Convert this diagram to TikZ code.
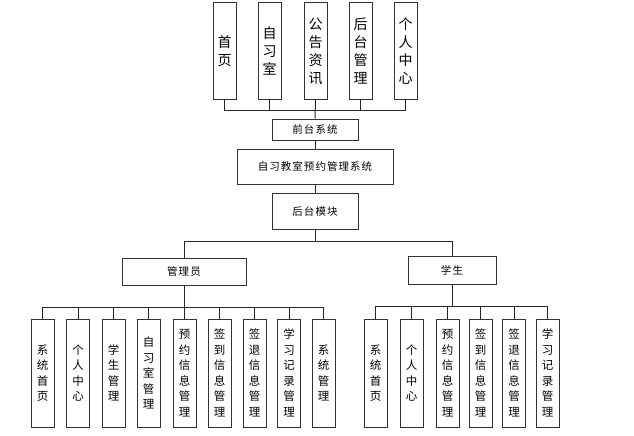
\documentclass[tikz,border=0pt]{standalone}
\usepackage{fontspec}
\setmainfont{Noto Sans CJK SC}
\newfontfamily\cjkwide[LetterSpace=10]{Noto Sans CJK SC}
\begin{document}
\begin{tikzpicture}[x=1pt,y=-1pt,
  box/.style={draw=black!80,line width=1pt,inner sep=0pt,align=center},
  topbox/.style={box,minimum width=23pt,minimum height=96pt,font=\fontsize{14}{18}\selectfont},
  midbox/.style={box,font=\cjkwide\fontsize{10.5}{12}\selectfont},
  leaf/.style={box,minimum width=23pt,minimum height=108pt,font=\fontsize{11.5}{15.5}\selectfont},
  conn/.style={draw=black!85,line width=1pt}]
\useasboundingbox (0,0) rectangle (634,436);
% top boxes
\node[topbox] (t1) at (224.5,51) {首\\页};
\node[topbox] (t2) at (269.5,51) {自\\习\\室};
\node[topbox] (t3) at (315.5,51) {公\\告\\资\\讯};
\node[topbox] (t4) at (360.5,51) {后\\台\\管\\理};
\node[topbox] (t5) at (405.5,51) {个\\人\\中\\心};
\coordinate (j1) at (315.5,110);
\node[midbox,minimum width=86pt,minimum height=21pt] (front) at (315,129.5) {前台系统};
\node[midbox,minimum width=156pt,minimum height=35pt] (main) at (315,166.5) {自习教室预约管理系统};
\node[midbox,minimum width=86pt,minimum height=36pt] (back) at (315,211) {后台模块};
\coordinate (j2) at (315,241);
\node[midbox,minimum width=124pt,minimum height=27pt] (admin) at (184,271.5) {管理员};
\node[midbox,minimum width=88pt,minimum height=28pt] (stu) at (452,270) {学生};
\coordinate (j3) at (184,307);
\coordinate (j4) at (452,306);
% admin leaves
\node[leaf] (a1) at (42.5,373) {系\\统\\首\\页};
\node[leaf] (a2) at (78,373) {个\\人\\中\\心};
\node[leaf] (a3) at (113.5,373) {学\\生\\管\\理};
\node[leaf] (a4) at (148.5,373) {自\\习\\室\\管\\理};
\node[leaf] (a5) at (184.5,373) {预\\约\\信\\息\\管\\理};
\node[leaf] (a6) at (219.5,373) {签\\到\\信\\息\\管\\理};
\node[leaf] (a7) at (254.5,373) {签\\退\\信\\息\\管\\理};
\node[leaf] (a8) at (289,373) {学\\习\\记\\录\\管\\理};
\node[leaf] (a9) at (323.5,373) {系\\统\\管\\理};
% student leaves
\node[leaf] (s1) at (375.5,373) {系\\统\\首\\页};
\node[leaf] (s2) at (411.5,373) {个\\人\\中\\心};
\node[leaf] (s3) at (447.5,373) {预\\约\\信\\息\\管\\理};
\node[leaf] (s4) at (480.5,373) {签\\到\\信\\息\\管\\理};
\node[leaf] (s5) at (514,373) {签\\退\\信\\息\\管\\理};
\node[leaf] (s6) at (547.5,373) {学\\习\\记\\录\\管\\理};
% connectors top
\draw[conn] (t1.south) |- (t5.south |- j1) -- (t5.south);
\foreach \n in {t2,t4} \draw[conn] (\n.south) -- (\n.south |- j1);
\draw[conn] (t3.south) -- (front.north);
\draw[conn] (front.south) -- (main.north);
\draw[conn] (main.south) -- (back.north);
\draw[conn] (back.south) -- (j2);
\draw[conn] (admin.north) |- (stu.north |- j2) -- (stu.north);
% admin bus
\draw[conn] (admin.south) -- (j3);
\draw[conn] (a1.north) |- (a9.north |- j3) -- (a9.north);
\foreach \n in {a2,a3,a4,a5,a6,a7,a8} \draw[conn] (\n.north) -- (\n.north |- j3);
% student bus
\draw[conn] (stu.south) -- (j4);
\draw[conn] (s1.north) |- (s6.north |- j4) -- (s6.north);
\foreach \n in {s2,s3,s4,s5} \draw[conn] (\n.north) -- (\n.north |- j4);
\end{tikzpicture}
\end{document}
